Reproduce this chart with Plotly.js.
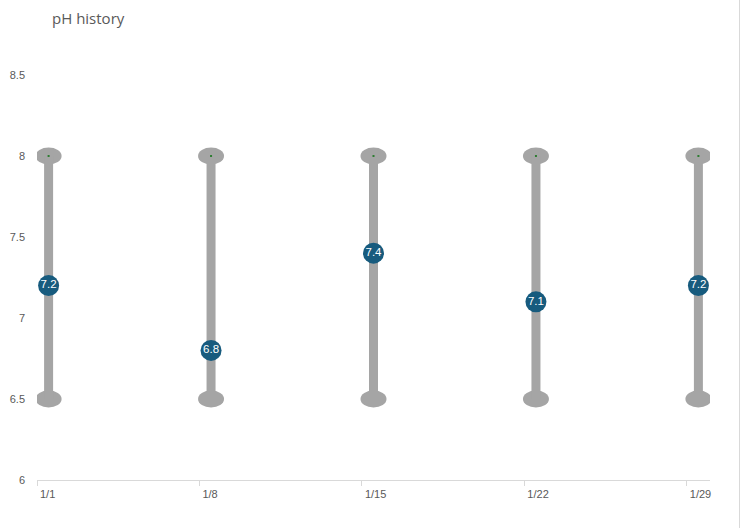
<!DOCTYPE html>
<html>
<head>
<meta charset="utf-8">
<script src="https://cdn.plot.ly/plotly-3.0.1.min.js"></script>
<style>
  html, body { margin: 0; padding: 0; background: #fff; }
  #chart { width: 739px; height: 528px; border-right: 1px solid #d9d9d9; }
</style>
</head>
<body>
<div id="chart"></div>
<script>
// ---- data ----
const dates = ['2024-01-01', '2024-01-08', '2024-01-15', '2024-01-22', '2024-01-29'];
const dateLabels = ['1/1', '1/8', '1/15', '1/22', '1/29'];
const phValues = [7.2, 6.8, 7.4, 7.1, 7.2];
const lowLimit = [6.5, 6.5, 6.5, 6.5, 6.5];
const highLimit = [8, 8, 8, 8, 8];
const yTicks = [6, 6.5, 7, 7.5, 8, 8.5];

// ---- helpers ----
const HALF_DAY = 12 * 3600 * 1000;
function shiftDate(d, ms) {
  const t = new Date(d + 'T00:00:00Z').getTime() + ms;
  return new Date(t).toISOString().replace('T', ' ').replace('Z', '').slice(0, 19);
}

// range bars (low -> high) with null separators
const barX = [], barY = [];
dates.forEach((d, i) => {
  barX.push(d, d, null);
  barY.push(lowLimit[i], highLimit[i], null);
});

const traces = [
  {
    type: 'scatter', mode: 'lines', x: barX, y: barY,
    line: { color: '#a5a5a5', width: 9 },
    hoverinfo: 'skip', showlegend: false
  },
  {
    type: 'scatter', mode: 'markers', x: dates, y: highLimit,
    marker: { color: '#2e7d32', size: 2, symbol: 'square' },
    hoverinfo: 'skip', showlegend: false
  },
  {
    type: 'scatter', mode: 'markers+text', x: dates, y: phValues,
    text: phValues.map(v => v.toFixed(1)),
    textposition: 'middle center',
    textfont: { color: '#ffffff', size: 11.5, family: 'Liberation Sans, Arial, sans-serif' },
    marker: { color: '#175b7e', size: 21, line: { width: 0 } },
    showlegend: false
  }
];

// elliptical caps anchored on the data values
const shapes = [];
dates.forEach((d, i) => {
  [lowLimit[i], highLimit[i]].forEach(v => {
    shapes.push({
      type: 'circle', layer: 'below',
      xref: 'x', yref: 'y',
      xsizemode: 'pixel', ysizemode: 'pixel',
      xanchor: d, yanchor: v,
      x0: -13, x1: 13, y0: -8.5, y1: 8.5,
      fillcolor: '#a5a5a5', line: { width: 0 }
    });
  });
});

const layout = {
  width: 739, height: 528,
  margin: { l: 37, r: 29, t: 75, b: 48 },
  paper_bgcolor: '#ffffff', plot_bgcolor: '#ffffff',
  font: { family: 'Liberation Sans Narrow, Liberation Sans, Arial, sans-serif', color: '#595959', size: 11 },
  title: {
    text: 'pH history',
    x: 52 / 739, xanchor: 'left', xref: 'container',
    y: 1 - 19 / 528, yanchor: 'middle', yref: 'container',
    font: { family: 'Open Sans, Lato, sans-serif', size: 15, color: '#595959' }
  },
  xaxis: {
    type: 'date',
    range: [shiftDate(dates[0], -HALF_DAY), shiftDate(dates[dates.length - 1], HALF_DAY)],
    tickmode: 'array',
    tickvals: dates.map(d => shiftDate(d, -HALF_DAY)),
    ticktext: dateLabels,
    ticklabelposition: 'outside right',
    ticklabelstandoff: 4,
    ticklabelshift: 2,
    ticks: 'outside', ticklen: 5, tickcolor: '#d9d9d9', tickwidth: 1,
    showline: true, linecolor: '#d9d9d9', linewidth: 1,
    showgrid: false, zeroline: false, fixedrange: true,
    tickfont: { size: 11, color: '#595959' }
  },
  yaxis: {
    range: [6, 8.5],
    tickmode: 'array', tickvals: yTicks, ticktext: yTicks.map(String),
    ticks: '', showline: false, showgrid: false, zeroline: false,
    ticklabelstandoff: 11,
    tickfont: { size: 11, color: '#595959' },
    fixedrange: true
  },
  shapes: shapes,
  showlegend: false
};

Plotly.newPlot('chart', traces, layout, { displayModeBar: false, staticPlot: true });
</script>
</body>
</html>
